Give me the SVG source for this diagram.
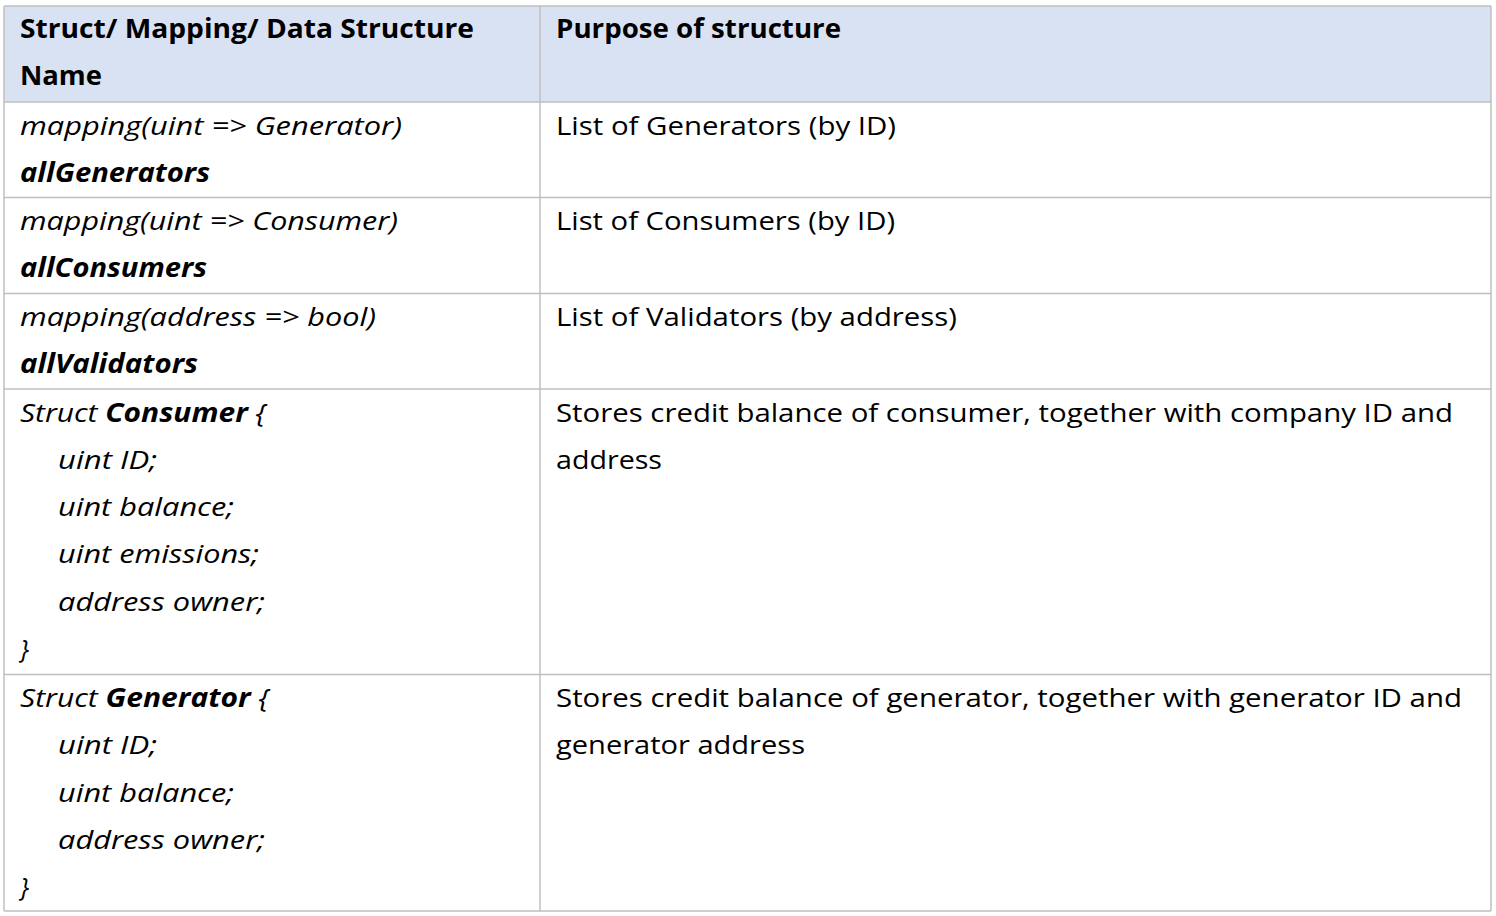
<svg xmlns="http://www.w3.org/2000/svg" width="1496" height="916" viewBox="0 0 1496 916">
<style>
  text { font-family: "Open Sans", "Liberation Sans", sans-serif; font-size: 26px; fill: #000; }
  .b { font-weight: 700; }
  .i { font-style: italic; }
  .bi { font-style: italic; font-weight: 700; }
  .grid line { stroke: #bfbfbf; stroke-width: 1.5; }
</style>
<rect x="0" y="0" width="1496" height="916" fill="#ffffff"/>
<rect x="4" y="6" width="1487" height="96" fill="#D9E2F3"/>
<g id="connectors" class="grid">
  <line x1="4" y1="6" x2="1491" y2="6"/>
  <line x1="4" y1="102" x2="1491" y2="102"/>
  <line x1="4" y1="197.5" x2="1491" y2="197.5"/>
  <line x1="4" y1="293.5" x2="1491" y2="293.5"/>
  <line x1="4" y1="389" x2="1491" y2="389"/>
  <line x1="4" y1="674.5" x2="1491" y2="674.5"/>
  <line x1="4" y1="911" x2="1491" y2="911"/>
  <line x1="4" y1="6" x2="4" y2="911"/>
  <line x1="540" y1="6" x2="540" y2="911"/>
  <line x1="1491" y1="6" x2="1491" y2="911"/>
</g>
<g id="header-name">
  <text class="b" x="20" y="38" textLength="454" lengthAdjust="spacingAndGlyphs">Struct/ Mapping/ Data Structure</text>
  <text class="b" x="20" y="85.3" textLength="82" lengthAdjust="spacingAndGlyphs">Name</text>
</g>
<g id="header-purpose">
  <text class="b" x="556" y="38" textLength="285" lengthAdjust="spacingAndGlyphs">Purpose of structure</text>
</g>
<g id="row-allGenerators">
  <text class="i" x="20" y="134.5" textLength="382" lengthAdjust="spacingAndGlyphs">mapping(uint =&gt; Generator)</text>
  <text class="bi" x="20" y="181.8" textLength="190" lengthAdjust="spacingAndGlyphs">allGenerators</text>
</g>
<g id="purpose-allGenerators">
  <text x="556" y="134.5" textLength="340" lengthAdjust="spacingAndGlyphs">List of Generators (by ID)</text>
</g>
<g id="row-allConsumers">
  <text class="i" x="20" y="230" textLength="378" lengthAdjust="spacingAndGlyphs">mapping(uint =&gt; Consumer)</text>
  <text class="bi" x="20" y="277.3" textLength="187" lengthAdjust="spacingAndGlyphs">allConsumers</text>
</g>
<g id="purpose-allConsumers">
  <text x="556" y="230" textLength="339" lengthAdjust="spacingAndGlyphs">List of Consumers (by ID)</text>
</g>
<g id="row-allValidators">
  <text class="i" x="20" y="326" textLength="356" lengthAdjust="spacingAndGlyphs">mapping(address =&gt; bool)</text>
  <text class="bi" x="20" y="373.3" textLength="178" lengthAdjust="spacingAndGlyphs">allValidators</text>
</g>
<g id="purpose-allValidators">
  <text x="556" y="326" textLength="401" lengthAdjust="spacingAndGlyphs">List of Validators (by address)</text>
</g>
<g id="struct-consumer">
  <text class="i" x="20" y="421.5" textLength="246" lengthAdjust="spacingAndGlyphs">Struct <tspan class="bi">Consumer</tspan> {</text>
  <text class="i" x="58" y="468.8" textLength="99" lengthAdjust="spacingAndGlyphs">uint ID;</text>
  <text class="i" x="58" y="516" textLength="176" lengthAdjust="spacingAndGlyphs">uint balance;</text>
  <text class="i" x="58" y="563.3" textLength="201" lengthAdjust="spacingAndGlyphs">uint emissions;</text>
  <text class="i" x="58" y="610.6" textLength="207" lengthAdjust="spacingAndGlyphs">address owner;</text>
  <text class="i" x="20" y="657.9">}</text>
</g>
<g id="purpose-consumer">
  <text x="556" y="421.5" textLength="897" lengthAdjust="spacingAndGlyphs">Stores credit balance of consumer, together with company ID and</text>
  <text x="556" y="468.8" textLength="106" lengthAdjust="spacingAndGlyphs">address</text>
</g>
<g id="struct-generator">
  <text class="i" x="20" y="707" textLength="249" lengthAdjust="spacingAndGlyphs">Struct <tspan class="bi">Generator</tspan> {</text>
  <text class="i" x="58" y="754.3" textLength="99" lengthAdjust="spacingAndGlyphs">uint ID;</text>
  <text class="i" x="58" y="801.6" textLength="176" lengthAdjust="spacingAndGlyphs">uint balance;</text>
  <text class="i" x="58" y="848.9" textLength="207" lengthAdjust="spacingAndGlyphs">address owner;</text>
  <text class="i" x="20" y="896.2">}</text>
</g>
<g id="purpose-generator">
  <text x="556" y="707" textLength="906" lengthAdjust="spacingAndGlyphs">Stores credit balance of generator, together with generator ID and</text>
  <text x="556" y="754.3" textLength="249" lengthAdjust="spacingAndGlyphs">generator address</text>
</g>
</svg>
